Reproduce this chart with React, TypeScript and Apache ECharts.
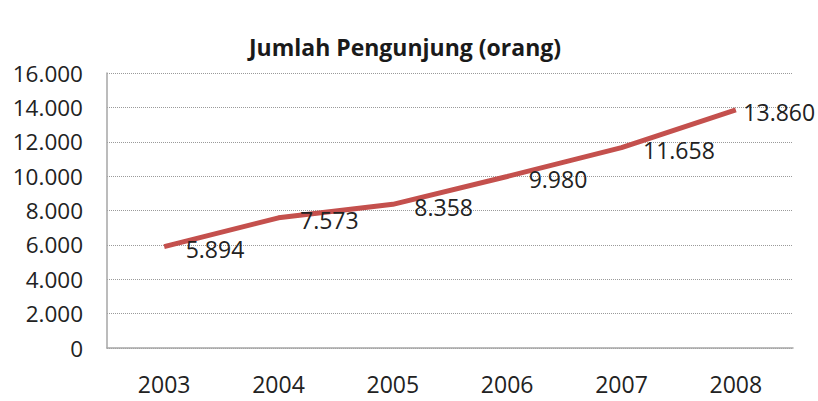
import React, { useEffect, useRef } from "react";
import * as echarts from "echarts";

const title = "Jumlah Pengunjung (orang)";
const years = ["2003", "2004", "2005", "2006", "2007", "2008"];
const visitors = [5894, 7573, 8358, 9980, 11658, 13860];
const yMin = 0;
const yMax = 16000;
const yStep = 2000;

const fmt = (v: number) => {
  const s = Math.round(v).toString();
  return s.replace(/\B(?=(\d{3})+(?!\d))/g, ".");
};

export default function App() {
  const ref = useRef<HTMLDivElement>(null);
  useEffect(() => {
    document.body.style.margin = "0";
    const chart = echarts.init(ref.current!, null, { renderer: "svg" });
    const font = "'Open Sans', 'Noto Sans', sans-serif";
    chart.setOption({
      animation: false,
      backgroundColor: "#ffffff",
      title: {
        text: title,
        left: 400,
        top: 30,
        textAlign: "center",
        textStyle: { fontFamily: font, fontWeight: "bold", fontSize: 23, color: "#1a1a1a" },
      },
      grid: { left: 107, right: 25, top: 73, bottom: 53, containLabel: false },
      xAxis: {
        type: "category",
        data: years,
        boundaryGap: true,
        axisLine: { show: true, lineStyle: { color: "#a6a6a6", width: 1.5 } },
        axisTick: { show: false },
        axisLabel: { margin: 24, fontFamily: font, fontSize: 23, color: "#222" },
        splitLine: { show: false },
      },
      yAxis: {
        type: "value",
        min: yMin,
        max: yMax,
        interval: yStep,
        axisLine: { show: true, lineStyle: { color: "#a6a6a6", width: 1.5 } },
        axisTick: { show: false },
        axisLabel: { margin: 24, fontFamily: font, fontSize: 22.5, color: "#222", formatter: (v: number) => fmt(v) },
        splitLine: { show: true, lineStyle: { type: "dotted", color: "#9a9a9a", width: 1 } },
      },
      series: [
        {
          type: "line",
          data: visitors.map((v, i) => ({
            value: v,
            label: {
              show: true,
              position: "right",
              distance: 5,
              offset: i === visitors.length - 1 ? [2, 2] : [16, 2.5],
              formatter: (p: any) => fmt(p.value),
              fontFamily: font,
              fontSize: 23,
              color: "#222",
            },
          })),
          symbol: "circle",
          symbolSize: 1,
          showSymbol: true,
          lineStyle: { color: "#c4504d", width: 5 },
          itemStyle: { color: "rgba(0,0,0,0)" },
          z: 3,
        },
      ],
    });
    return () => chart.dispose();
  }, []);
  return <div ref={ref} style={{ width: 818, height: 401 }} />;
}
